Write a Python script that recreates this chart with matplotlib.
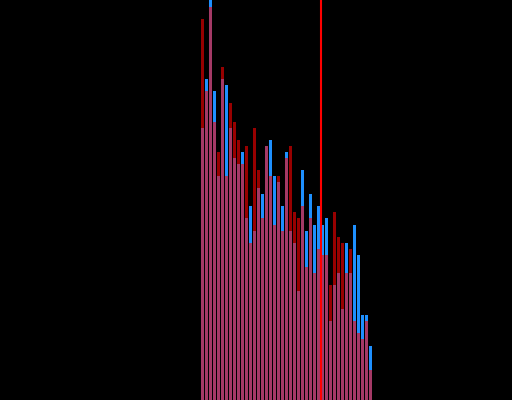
"""Two overlaid histograms on a black background, with a marker line."""
import numpy as np
import matplotlib
matplotlib.use('Agg')
import matplotlib.pyplot as plt

# counts per bin
blue_counts = [45, 53, 70, 51, 37, 53, 52, 45, 40, 39, 41, 30, 32, 28, 35,
               34, 42, 43, 37, 36, 32, 41, 28, 26, 18, 38, 28, 34, 29, 32,
               29, 30, 13, 19, 21, 15, 26, 21, 29, 24, 14, 14, 9]
red_counts = [63, 51, 65, 46, 41, 55, 37, 49, 46, 43, 39, 42, 26, 45, 38,
              30, 42, 37, 29, 37, 28, 40, 42, 31, 30, 32, 22, 30, 21, 25,
              24, 24, 19, 31, 27, 26, 21, 25, 13, 11, 10, 13, 5]
marker_bin = 30

n_bins = len(blue_counts)
edges = np.arange(n_bins + 1)
centers = edges[:-1] + 0.5

fig = plt.figure(figsize=(5.12, 4.0), dpi=100, facecolor='black')
ax = fig.add_axes([0, 0, 1, 1])
ax.set_facecolor('black')

ax.bar(centers, blue_counts, width=0.8, color='#1e90ff', linewidth=0)
ax.bar(centers, red_counts, width=0.8, color='#ff0000', alpha=0.6, linewidth=0)
ax.axvline(marker_bin, color='#ff0000', linewidth=1.5)

ax.set_xlim(-50.15, 77.85)
ax.set_ylim(0, 66.1)
ax.axis('off')

fig.savefig('out.png', dpi=100, facecolor='black')
